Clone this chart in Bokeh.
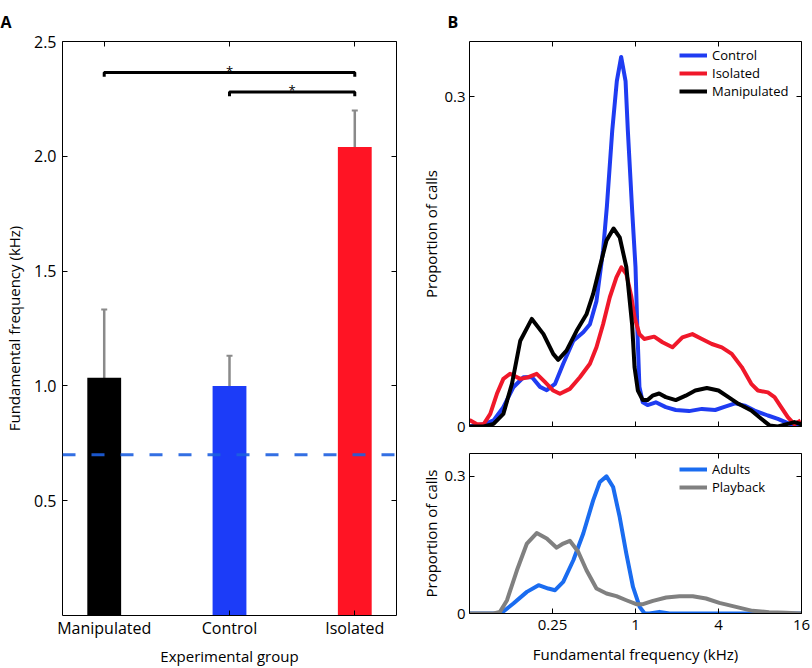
from bokeh.plotting import figure
from bokeh.layouts import row, column
from bokeh.models import (ColumnDataSource, FixedTicker, LinearAxis, LogAxis, Range1d,
                          Span, Whisker, TeeHead, Legend, LegendItem,
                          CustomJSTickFormatter, NumeralTickFormatter)
from bokeh.core.properties import value
from bokeh.embed import file_html
from bokeh.resources import INLINE

FONT = "Open Sans"

# ---------------- Panel A data ----------------
groups = ["Manipulated", "Control", "Isolated"]
group_mean = [1.035, 1.0, 2.04]
group_lo = [0.732, 0.867, 1.878]
group_hi = [1.333, 1.131, 2.200]
group_colors = ["#000000", "#1c3cf8", "#ff1424"]
adult_ref = 0.7
sig_pairs = [(0, 2), (1, 2)]
sig_levels = [2.365, 2.28]
sig_labels = ["*", "*"]
yticks_a = [0.5, 1.0, 1.5, 2.0, 2.5]

# ---------------- Panel B data (frequency kHz, proportion) ----------------
ctrl_f = [0.0625, 0.0791, 0.0934, 0.110, 0.130, 0.154, 0.177, 0.203, 0.227, 0.261,
          0.299, 0.354, 0.418, 0.467, 0.521, 0.582, 0.620, 0.678, 0.732, 0.787,
          0.847, 0.880, 0.946, 1.000, 1.034, 1.068, 1.129, 1.223, 1.404, 1.659,
          1.959, 2.445, 3.031, 3.784, 4.469, 5.278, 6.190, 7.311, 9.126, 10.78,
          12.73, 14.22, 16.0]
ctrl_p = [0.000, 0.002, 0.0055, 0.0176, 0.0357, 0.0448, 0.045, 0.036, 0.033, 0.0388,
          0.057, 0.078, 0.0857, 0.093, 0.114, 0.160, 0.200, 0.269, 0.314, 0.336,
          0.314, 0.269, 0.196, 0.145, 0.084, 0.036, 0.022, 0.0195, 0.022, 0.0176,
          0.015, 0.014, 0.016, 0.015, 0.018, 0.021, 0.019, 0.0145, 0.010, 0.007,
          0.003, 0.001, 0.000]

iso_f = [0.0625, 0.0708, 0.0791, 0.0884, 0.0988, 0.110, 0.123, 0.146, 0.167, 0.192,
         0.221, 0.253, 0.283, 0.334, 0.395, 0.467, 0.521, 0.582, 0.651, 0.727,
         0.790, 0.858, 0.933, 0.984, 1.068, 1.157, 1.366, 1.569, 1.853, 2.189,
         2.585, 3.031, 3.580, 4.228, 4.993, 5.897, 6.916, 7.727, 9.126, 10.20,
         11.39, 12.73, 14.22, 15.78]
iso_p = [0.006, 0.002, 0.002, 0.0115, 0.0297, 0.0433, 0.0479, 0.0433, 0.0448, 0.0479,
         0.0403, 0.0327, 0.0297, 0.0342, 0.0448, 0.057, 0.072, 0.093, 0.1175, 0.1356,
         0.1447, 0.1387, 0.118, 0.0993, 0.084, 0.0796, 0.0817, 0.0766, 0.072, 0.081,
         0.084, 0.0796, 0.075, 0.072, 0.066, 0.054, 0.0388, 0.0327, 0.031, 0.0267,
         0.0176, 0.0085, 0.002, 0.0055]

man_f = [0.0625, 0.0791, 0.0934, 0.110, 0.127, 0.146, 0.177, 0.215, 0.253, 0.275,
         0.316, 0.374, 0.441, 0.493, 0.551, 0.616, 0.693, 0.768, 0.858, 0.946,
         0.984, 1.040, 1.129, 1.223, 1.329, 1.484, 1.659, 1.959, 2.313, 2.714,
         3.294, 4.0, 4.724, 5.579, 6.916, 8.168, 9.383, 10.78, 12.73, 14.22, 16.0]
man_p = [0.000, 0.000, 0.0024, 0.0115, 0.0388, 0.078, 0.0978, 0.084, 0.066, 0.0606,
         0.069, 0.087, 0.102, 0.1205, 0.145, 0.169, 0.180, 0.172, 0.145, 0.092,
         0.054, 0.0327, 0.024, 0.024, 0.028, 0.030, 0.0267, 0.024, 0.028, 0.0327,
         0.035, 0.0327, 0.0267, 0.0206, 0.0145, 0.007, 0.001, 0.000, 0.0024, 0.004, 0.002]

adult_f = [0.0625, 0.0988, 0.107, 0.130, 0.163, 0.198, 0.233, 0.261, 0.299, 0.354,
           0.418, 0.493, 0.551, 0.616, 0.688, 0.768, 0.858, 0.959, 1.072, 1.165,
           1.262, 1.491, 1.765, 4.0, 16.0]
adult_p = [0.000, 0.000, 0.0015, 0.0218, 0.0473, 0.0619, 0.0546, 0.051, 0.069, 0.1165,
           0.175, 0.2475, 0.2876, 0.300, 0.2767, 0.211, 0.131, 0.058, 0.0146, 0.000,
           0.000, 0.0036, 0.000, 0.000, 0.000]

play_f = [0.0625, 0.0934, 0.104, 0.117, 0.138, 0.163, 0.192, 0.227, 0.268, 0.299,
          0.334, 0.384, 0.441, 0.521, 0.616, 0.727, 0.858, 1.014, 1.133, 1.338,
          1.670, 2.085, 2.603, 3.249, 4.056, 5.352, 7.062, 9.318, 12.30, 16.0]
play_p = [0.000, 0.000, 0.0036, 0.029, 0.0946, 0.153, 0.176, 0.164, 0.144, 0.153,
          0.159, 0.135, 0.0946, 0.0546, 0.0437, 0.0379, 0.029, 0.0204, 0.0204, 0.0277,
          0.035, 0.0379, 0.0379, 0.0328, 0.0233, 0.0146, 0.0058, 0.0029, 0.0015, 0.000]

top_series = ["Control", "Isolated", "Manipulated"]
top_colors = ["#1f3cf2", "#f0182a", "#000000"]
bottom_series = ["Adults", "Playback"]
bottom_colors = ["#1a6cf0", "#808080"]
xticks_b = [0.25, 1, 4, 16]
xlabels_b = ["0.25", "1", "4", "16"]
yticks_b = [0, 0.3]
ylabels_b = ["0", "0.3"]


def style_axis(ax, size="16px"):
    ax.axis_line_color = "black"
    ax.axis_line_width = 1
    ax.major_tick_line_color = "black"
    ax.major_tick_line_width = 1
    ax.major_tick_in = 5
    ax.major_tick_out = 0
    ax.minor_tick_line_color = None
    ax.major_label_text_font = FONT
    ax.major_label_text_font_size = size
    ax.major_label_text_color = "black"
    ax.axis_label_text_font = FONT
    ax.axis_label_text_font_size = "15px"
    ax.axis_label_text_font_style = "normal"
    ax.axis_label_text_color = "black"


def blank_axis(ax):
    style_axis(ax, "1px")
    ax.major_label_standoff = 0


def panel_title(p, letter, offset):
    p.title.text = letter
    p.title.align = "left"
    p.title.vertical_align = "top"
    p.title.offset = offset
    p.title.standoff = 14
    p.title.text_font = FONT
    p.title.text_font_size = "16px"
    p.title.text_font_style = "bold"
    p.title.text_color = "black"


blank = CustomJSTickFormatter(code="return ''")

# ---------------- Panel A ----------------
xpos = [i + 1 for i in range(len(groups))]
srcA = ColumnDataSource(dict(x=xpos, top=group_mean, lo=group_lo, hi=group_hi, color=group_colors))

pA = figure(width=418, height=668, x_range=Range1d(0.667, 3.333), y_range=Range1d(0, 2.5),
            output_backend="svg", toolbar_location=None,
            min_border_left=61, min_border_right=22, min_border_top=41, min_border_bottom=53)
pA.grid.visible = False
pA.outline_line_color = None
panel_title(pA, "A", -62)

pA.vbar(x="x", top="top", width=0.27, fill_color="color", line_color=None, source=srcA)
err_col = "#8a8a8a"
pA.add_layout(Whisker(source=srcA, base="x", lower="lo", upper="hi", line_color=err_col, line_width=2.5,
                      upper_head=TeeHead(size=6, line_color=err_col, line_width=2),
                      lower_head=TeeHead(size=6, line_color=err_col, line_width=2)))
pA.add_layout(Span(location=adult_ref, dimension="width", line_color="#1d5fe0", line_width=3,
                   line_dash="13 16", line_alpha=0.9))

br_xs, br_ys, st_x, st_y = [], [], [], []
for (i, j), lvl in zip(sig_pairs, sig_levels):
    br_xs.append([xpos[i], xpos[i], xpos[j], xpos[j]])
    br_ys.append([lvl - 0.018, lvl, lvl, lvl - 0.018])
    st_x.append((xpos[i] + xpos[j]) / 2)
    st_y.append(lvl + 0.008)
pA.multi_line(br_xs, br_ys, line_color="black", line_width=3)
pA.text(st_x, st_y, text=sig_labels, text_font=value(FONT), text_font_size="13px",
        text_align="center", text_baseline="alphabetic", text_color="black")

pA.xaxis.ticker = FixedTicker(ticks=xpos)
pA.xaxis.major_label_overrides = {x: g for x, g in zip(xpos, groups)}
pA.xaxis.axis_label = "Experimental group"
pA.yaxis.ticker = FixedTicker(ticks=yticks_a)
pA.yaxis.formatter = NumeralTickFormatter(format="0.0")
pA.yaxis.axis_label = "Fundamental frequency (kHz)"
for ax in pA.axis:
    style_axis(ax)
pA.xaxis.major_label_standoff = 1
pA.xaxis.axis_label_standoff = 4
pA.yaxis.major_label_standoff = 6
pA.yaxis.axis_label_standoff = 7

ra = LinearAxis(ticker=FixedTicker(ticks=yticks_a), formatter=blank)
blank_axis(ra)
pA.add_layout(ra, "right")
ta = LinearAxis(ticker=FixedTicker(ticks=xpos), formatter=blank)
blank_axis(ta)
pA.add_layout(ta, "above")


# ---------------- Panel B ----------------
def make_b(height, mt, mb, names, colors, fs, ps, loc, show_labels):
    p = figure(width=394, height=height, x_axis_type="log", x_range=Range1d(0.0625, 16),
               y_range=Range1d(0, 0.35), output_backend="svg", toolbar_location=None,
               min_border_left=49, min_border_right=11, min_border_top=mt, min_border_bottom=mb)
    p.grid.visible = False
    p.outline_line_color = None
    items = []
    for name, col, f, v in zip(names, colors, fs, ps):
        r = p.line(f, v, line_color=col, line_width=4, line_join="round")
        items.append(LegendItem(label=name, renderers=[r]))
    p.xaxis.ticker = FixedTicker(ticks=xticks_b)
    p.yaxis.ticker = FixedTicker(ticks=yticks_b)
    p.yaxis.major_label_overrides = {t: l for t, l in zip(yticks_b, ylabels_b)}
    p.yaxis.axis_label = "Proportion of calls"
    for ax in p.axis:
        style_axis(ax, "15px")
    p.yaxis.major_label_standoff = 4
    p.yaxis.axis_label_standoff = 0
    if show_labels:
        p.xaxis.major_label_overrides = {t: l for t, l in zip(xticks_b, xlabels_b)}
        p.xaxis.axis_label = "Fundamental frequency (kHz)"
        p.xaxis.major_label_standoff = 6
        p.xaxis.axis_label_standoff = 11
    else:
        p.xaxis.formatter = blank
        blank_axis(p.xaxis[0])
    rb = LinearAxis(ticker=FixedTicker(ticks=yticks_b), formatter=blank)
    blank_axis(rb)
    p.add_layout(rb, "right")
    tb = LogAxis(ticker=FixedTicker(ticks=xticks_b), formatter=blank)
    blank_axis(tb)
    p.add_layout(tb, "above")
    leg = Legend(items=items, location=loc, orientation="vertical",
                 label_text_font=FONT, label_text_font_size="13px", label_text_color="black",
                 glyph_width=28, glyph_height=14, label_height=14, label_standoff=5,
                 spacing=0, padding=0, margin=0, border_line_color=None,
                 background_fill_color=None, background_fill_alpha=0)
    p.add_layout(leg)
    return p


pB1 = make_b(440, 41, 14, top_series, top_colors, [ctrl_f, iso_f, man_f], [ctrl_p, iso_p, man_p],
             (210, 326), False)
panel_title(pB1, "B", -22)
pB2 = make_b(228, 13, 55, bottom_series, bottom_colors, [adult_f, play_f], [adult_p, play_p],
             (210, 117), True)

layout = row(pA, column(pB1, pB2))
open("out.html", "w").write(file_html(layout, INLINE))
